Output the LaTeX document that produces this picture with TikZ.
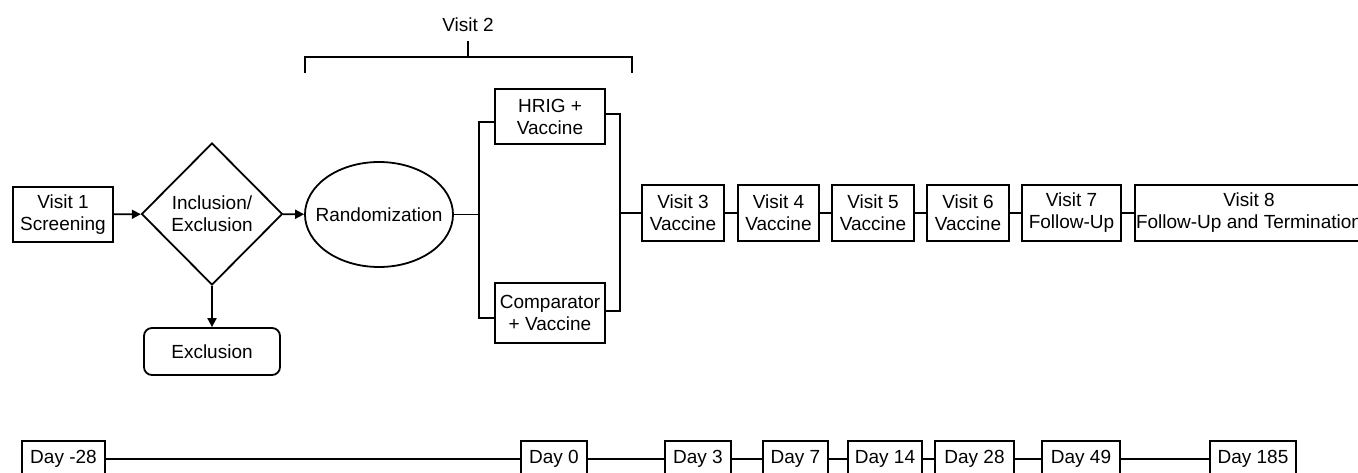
\documentclass[tikz,border=0pt]{standalone}
\usepackage{fontspec}
\setmainfont{Liberation Sans}
\usetikzlibrary{shapes.geometric,arrows.meta}
\begin{document}
\begin{tikzpicture}[x=1pt,y=-1pt,
  every node/.style={font=\fontsize{19}{22}\selectfont, align=center, inner sep=0pt},
  box/.style={draw, line width=1.8pt, minimum height=55pt},
  daybox/.style={draw, line width=1.8pt, minimum height=36pt},
  conn/.style={line width=1.8pt},
  arr/.style={line width=1.8pt, -{Triangle[length=9pt,width=9pt]}}]
\useasboundingbox (0,0) rectangle (1358,472);
% top row
\node[box, minimum width=100pt] (v1) at (63,214.5) {Visit 1\\Screening};
\node[draw, diamond, line width=1.8pt, minimum width=141pt, minimum height=142pt] (dia) at (212,214) {Inclusion/\\Exclusion};
\node[draw, rounded corners=8pt, line width=1.8pt, minimum width=136pt, minimum height=47pt] (exc) at (212,351.5) {Exclusion};
\node[draw, ellipse, line width=1.8pt, minimum width=148pt, minimum height=105pt,
      label={center:Randomization}] (rand) at (379,214.5) {};
\node[box, minimum width=110pt] (hrig) at (550,116.5) {HRIG +\\Vaccine};
\node[box, minimum width=110pt, minimum height=60pt] (comp) at (550,313) {Comparator\\+ Vaccine};
\node[box, minimum width=82pt, minimum height=56pt] (v3) at (683,213) {Visit 3\\Vaccine};
\node[box, minimum width=81pt, minimum height=56pt] (v4) at (778.5,213) {Visit 4\\Vaccine};
\node[box, minimum width=82pt, minimum height=56pt] (v5) at (873,213) {Visit 5\\Vaccine};
\node[box, minimum width=82pt, minimum height=56pt] (v6) at (968,213) {Visit 6\\Vaccine};
\node[box, minimum width=99pt, minimum height=56pt] (v7) at (1071.5,213) {Visit 7\\Follow-Up};
\node[box, minimum width=228pt, minimum height=56pt] (v8) at (1249,213) {Visit 8\\Follow-Up and Termination};
% arrows
\draw[arr] (v1) -- (dia);
\draw[arr] (dia) -- (exc);
\draw[arr] (dia) -- (rand);
% branching
\coordinate (jl) at (479,214.5);
\coordinate (jlt) at (479,122);
\coordinate (jlb) at (479,318);
\coordinate (jr) at (620,213);
\coordinate (jrt) at (620,114);
\coordinate (jrb) at (620,311);
\draw[conn] (rand) -- (jl);
\draw[conn] (hrig.west |- jlt) -| (jlb) -- (comp.west |- jlb);
\draw[conn] (hrig.east |- jrt) -| (jrb) -- (comp.east |- jrb);
\draw[conn] (jr) -- (v3.west |- jr);
\draw[conn] (v3) -- (v4);
\draw[conn] (v4) -- (v5);
\draw[conn] (v5) -- (v6);
\draw[conn] (v6) -- (v7);
\draw[conn] (v7) -- (v8);
% bracket
\coordinate (b1) at (305,73);
\coordinate (b4) at (632,73);
\coordinate (bt) at (468,57);
\coordinate (bu) at (468,41);
\draw[conn] (b1) |- (bt) -| (b4);
\draw[conn] (bt) -- (bu);
\node (vis2) at (468,25) {Visit 2};
% day row
\node[daybox, minimum width=83pt] (dm28) at (63.5,459) {Day -28};
\node[daybox, minimum width=66pt] (d0) at (554,459) {Day 0};
\node[daybox, minimum width=66pt] (d3) at (698,459) {Day 3};
\node[daybox, minimum width=65pt] (d7) at (795.5,459) {Day 7};
\node[daybox, minimum width=74pt] (d14) at (885,459) {Day 14};
\node[daybox, minimum width=79pt] (d28) at (974.5,459) {Day 28};
\node[daybox, minimum width=78pt] (d49) at (1081,459) {Day 49};
\node[daybox, minimum width=86pt] (d185) at (1253,459) {Day 185};
\draw[conn] (dm28) -- (d0);
\draw[conn] (d0) -- (d3);
\draw[conn] (d3) -- (d7);
\draw[conn] (d7) -- (d14);
\draw[conn] (d14) -- (d28);
\draw[conn] (d28) -- (d49);
\draw[conn] (d49) -- (d185);
\end{tikzpicture}
\end{document}
